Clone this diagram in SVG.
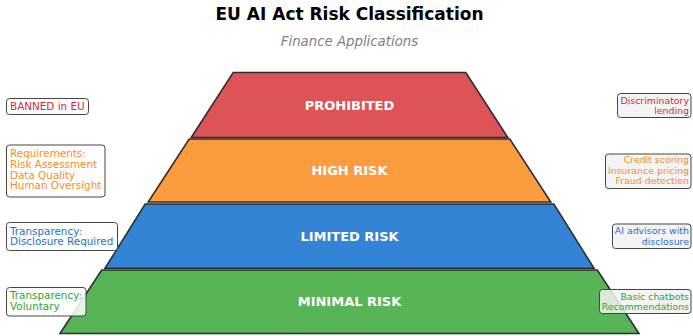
<svg xmlns="http://www.w3.org/2000/svg" width="693" height="336" viewBox="0 0 693 336">
<style>
text{font-family:"DejaVu Sans","Liberation Sans",sans-serif}
.title{font-size:17px;font-weight:bold;fill:#000;text-anchor:middle}
.sub{font-size:13.3px;font-style:italic;fill:#808080;text-anchor:middle}
.layer{stroke:#2e2e2e;stroke-width:1.6;stroke-linejoin:miter}
.lbl{font-size:13px;font-weight:bold;fill:#fff;text-anchor:middle}
.lbox{fill:#fff;fill-opacity:0.85;stroke:#444;stroke-width:1}
.rbox{fill:#f2f2f2;fill-opacity:0.85;stroke:#444;stroke-width:1}
.lt{font-size:10.4px}
.rt{font-size:9.4px;text-anchor:end}
.red{fill:#d62839}.org{fill:#fb8c22}.blu{fill:#1f6fd0}.grn{fill:#2fa52f}
</style>
<rect width="693" height="336" fill="#fff"/>
<text class="title" x="349.5" y="20">EU AI Act Risk Classification</text>
<text class="sub" x="349.5" y="46">Finance Applications</text>

<g id="prohibited">
<polygon class="layer" fill="#de5357" points="233.2,72.5 465.8,72.5 507.8,137.5 191.2,137.5"/>
<text class="lbl" x="349.5" y="109.7">PROHIBITED</text>
</g>
<g id="high-risk">
<polygon class="layer" fill="#fd9b3f" points="189.2,139 509.8,139 550.8,202 148.2,202"/>
<text class="lbl" x="349.5" y="175.2">HIGH RISK</text>
</g>
<g id="limited-risk">
<polygon class="layer" fill="#3484d5" points="145.2,204 553.8,204 594,268.3 105,268.3"/>
<text class="lbl" x="349.5" y="240.7">LIMITED RISK</text>
</g>
<g id="minimal-risk">
<polygon class="layer" fill="#57b457" points="101.7,270 597.3,270 639,333.5 60,333.5"/>
<text class="lbl" x="349.5" y="306.4">MINIMAL RISK</text>
</g>

<g id="req-prohibited">
<rect class="lbox" x="6.5" y="98.5" width="82" height="16" rx="3"/>
<text class="lt red" x="10" y="110">BANNED in EU</text>
</g>
<g id="req-high">
<rect class="lbox" x="6.5" y="145" width="98.5" height="52" rx="3"/>
<text class="lt org" x="10" y="157"><tspan x="10">Requirements:</tspan><tspan x="10" dy="10.8">Risk Assessment</tspan><tspan x="10" dy="10.8">Data Quality</tspan><tspan x="10" dy="10.8">Human Oversight</tspan></text>
</g>
<g id="req-limited">
<rect class="lbox" x="6.5" y="222.5" width="111" height="28" rx="3"/>
<text class="lt blu" x="10" y="234.5"><tspan x="10">Transparency:</tspan><tspan x="10" dy="10.8">Disclosure Required</tspan></text>
</g>
<g id="req-minimal">
<rect class="lbox" x="6.5" y="287.5" width="79.5" height="28.5" rx="3"/>
<text class="lt grn" x="10" y="299"><tspan x="10">Transparency:</tspan><tspan x="10" dy="10.8">Voluntary</tspan></text>
</g>

<g id="ex-prohibited">
<rect class="rbox" x="617.5" y="93.5" width="73.5" height="24" rx="3"/>
<text class="rt red" x="689" y="103.5"><tspan x="689">Discriminatory</tspan><tspan x="689" dy="10.6">lending</tspan></text>
</g>
<g id="ex-high">
<rect class="rbox" x="605.5" y="154" width="85.5" height="34.5" rx="3"/>
<text class="rt org" x="689" y="163"><tspan x="689">Credit scoring</tspan><tspan x="689" dy="10.6">Insurance pricing</tspan><tspan x="689" dy="10.6">Fraud detection</tspan></text>
</g>
<g id="ex-limited">
<rect class="rbox" x="612.5" y="224" width="78.5" height="24.5" rx="3"/>
<text class="rt blu" x="689" y="234"><tspan x="689">AI advisors with</tspan><tspan x="689" dy="10.6">disclosure</tspan></text>
</g>
<g id="ex-minimal">
<rect class="rbox" x="599.5" y="289.5" width="91.5" height="24" rx="3"/>
<text class="rt grn" x="689" y="299.5"><tspan x="689">Basic chatbots</tspan><tspan x="689" dy="10.6">Recommendations</tspan></text>
</g>
<g id="connectors"></g>
</svg>
